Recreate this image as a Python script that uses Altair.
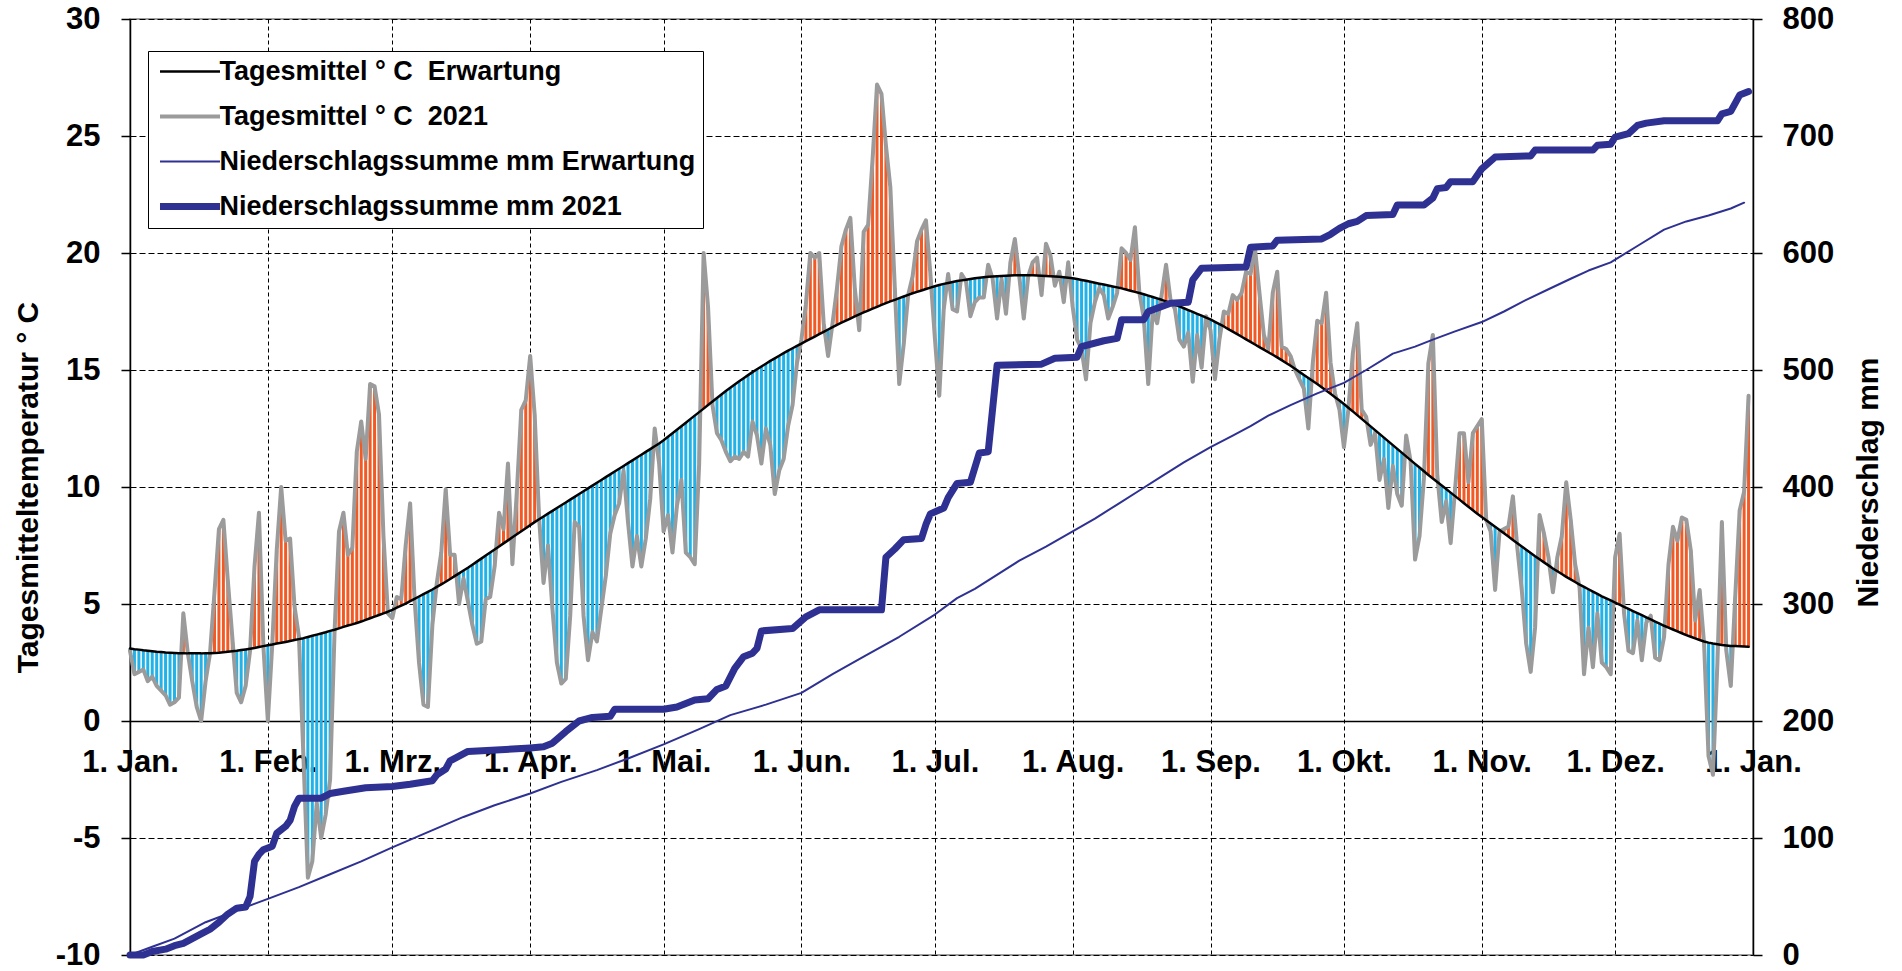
import altair as alt
import pandas as pd

FONT = "Liberation Sans"

# ---------------------------------------------------------------- axis setup
MONTH_START = [0, 31, 59, 90, 120, 151, 181, 212, 243, 273, 304, 334, 365]
MONTH_LABELS = ["1. Jan.", "1. Feb.", "1. Mrz.", "1. Apr.", "1. Mai.", "1. Jun.",
                "1. Jul.", "1. Aug.", "1. Sep.", "1. Okt.", "1. Nov.", "1. Dez.", "1. Jan."]

# ------------------------------------------- daily mean temperature 2021 (°C)
T21_JAN = [3.0, 2.0, 2.1, 2.2, 1.7, 1.9, 1.5, 1.3, 1.1, 0.7, 0.8, 1.0, 4.6, 2.9, 1.7, 0.6,
           0.0, 1.7, 2.9, 5.5, 8.2, 8.6, 6.0, 3.6, 1.2, 0.8, 1.5, 3.0, 6.6, 8.9, 3.2]
T21_FEB = [0.0, 3.3, 7.3, 10.0, 7.7, 7.8, 4.9, 3.6, -1.5, -6.7, -6.0, -3.5, -5.0, -4.0,
           -2.5, 3.8, 8.1, 8.9, 7.1, 7.4, 11.5, 12.8, 11.2, 14.4, 14.3, 13.1, 7.9, 4.6]
T21_MAR = [4.4, 5.3, 5.2, 7.5, 9.3, 5.2, 2.5, 0.7, 0.6, 4.1, 5.9, 7.2, 9.9, 7.1, 7.1, 5.0,
           6.1, 5.1, 4.1, 3.3, 3.4, 5.2, 5.3, 6.6, 8.9, 8.2, 11.0, 6.7, 9.8, 13.3, 13.7]
T21_APR = [15.6, 13.1, 8.7, 5.9, 7.5, 4.8, 2.5, 1.6, 1.8, 4.5, 8.5, 8.3, 4.5, 2.6, 3.8,
           3.4, 4.8, 6.2, 8.0, 8.8, 9.3, 10.7, 8.5, 6.6, 7.9, 6.6, 7.8, 9.5, 12.5, 11.0]
T21_MAY = [8.1, 8.8, 7.2, 9.2, 10.3, 7.2, 7.0, 6.7, 11.0, 20.0, 17.7, 13.5, 12.3, 12.0,
           11.5, 11.1, 11.3, 11.2, 11.5, 11.3, 12.8, 12.2, 11.0, 12.5, 11.8, 9.7, 10.7,
           11.2, 12.6, 13.5, 15.3]
T21_JUN = [16.3, 17.8, 20.0, 19.8, 20.0, 17.0, 15.6, 17.0, 18.5, 20.3, 21.0, 21.5, 18.5,
           16.7, 20.9, 21.2, 24.0, 27.2, 26.8, 24.6, 22.8, 18.5, 14.4, 16.1, 18.2, 19.0,
           20.5, 21.0, 21.4, 19.1]
T21_JUL = [16.4, 13.9, 17.6, 19.1, 17.6, 17.5, 19.1, 18.8, 17.3, 17.9, 18.1, 18.1, 19.5,
           18.9, 17.2, 18.9, 17.4, 19.6, 20.6, 19.0, 17.2, 19.0, 19.6, 19.8, 18.2, 20.4,
           19.9, 18.6, 19.2, 17.9, 19.6]
T21_AUG = [17.7, 16.3, 15.9, 14.6, 17.0, 17.9, 18.5, 18.2, 17.2, 17.7, 18.3, 20.2, 20.0,
           19.7, 21.1, 18.3, 17.2, 14.4, 17.5, 17.0, 18.2, 19.5, 18.0, 17.6, 16.3, 16.0,
           16.6, 14.5, 16.5, 15.1, 17.3]
T21_SEP = [16.7, 14.6, 16.3, 17.5, 17.4, 18.2, 18.0, 18.3, 19.2, 19.1, 20.2, 18.3, 16.5,
           15.9, 18.3, 19.2, 16.0, 15.9, 15.6, 15.0, 14.6, 14.2, 12.5, 15.3, 17.1, 17.0,
           18.3, 15.3, 14.0, 13.3]
T21_OCT = [11.7, 13.3, 15.7, 17.0, 13.3, 13.0, 11.8, 12.3, 10.3, 11.2, 9.1, 10.9, 9.7,
           9.2, 12.2, 11.1, 6.9, 7.9, 10.4, 15.3, 16.5, 10.5, 8.5, 9.4, 7.6, 9.9, 12.3,
           12.3, 10.2, 12.3, 12.6]
T21_NOV = [12.9, 8.6, 8.1, 5.6, 8.1, 8.2, 8.3, 9.6, 7.4, 5.6, 3.3, 2.1, 4.0, 8.8, 8.0,
           7.0, 5.5, 7.0, 7.9, 10.2, 8.6, 6.7, 5.7, 2.0, 4.0, 2.3, 4.6, 2.5, 2.3, 2.0]
T21_DEC = [7.0, 8.0, 4.6, 3.0, 2.9, 4.3, 2.6, 4.2, 4.5, 2.7, 2.6, 3.6, 6.7, 8.3, 7.7, 8.7,
           8.6, 7.3, 4.3, 5.6, 3.3, -1.5, -2.3, 2.5, 8.5, 3.0, 1.5, 5.3, 9.0, 9.8, 13.9]

# ------------------------------------- expected daily mean temperature (°C)
TEX_JAN = [3.10, 3.07, 3.05, 3.02, 3.00, 2.98, 2.96, 2.95, 2.93, 2.92, 2.91, 2.90, 2.90,
           2.89, 2.89, 2.89, 2.89, 2.90, 2.90, 2.91, 2.92, 2.94, 2.96, 2.98, 3.00, 3.03,
           3.06, 3.09, 3.12, 3.16, 3.20]
TEX_FEB = [3.24, 3.27, 3.31, 3.34, 3.38, 3.42, 3.46, 3.50, 3.54, 3.59, 3.64, 3.69, 3.74,
           3.79, 3.85, 3.90, 3.96, 4.02, 4.08, 4.13, 4.19, 4.25, 4.32, 4.39, 4.46, 4.53,
           4.60, 4.67]
TEX_MAR = [4.75, 4.84, 4.93, 5.02, 5.12, 5.22, 5.32, 5.42, 5.52, 5.62, 5.73, 5.84, 5.95,
           6.07, 6.19, 6.31, 6.43, 6.55, 6.68, 6.81, 6.94, 7.07, 7.20, 7.33, 7.46, 7.59,
           7.72, 7.85, 7.98, 8.11, 8.24]
TEX_APR = [8.37, 8.50, 8.62, 8.74, 8.86, 8.98, 9.10, 9.22, 9.34, 9.46, 9.58, 9.70, 9.82,
           9.94, 10.06, 10.18, 10.30, 10.42, 10.54, 10.66, 10.78, 10.90, 11.02, 11.14,
           11.26, 11.38, 11.50, 11.62, 11.74, 11.86]
TEX_MAY = [12.00, 12.15, 12.30, 12.45, 12.60, 12.75, 12.90, 13.05, 13.20, 13.35, 13.50,
           13.65, 13.80, 13.95, 14.10, 14.24, 14.38, 14.52, 14.65, 14.78, 14.91, 15.03,
           15.15, 15.27, 15.39, 15.50, 15.61, 15.72, 15.83, 15.93, 16.03]
TEX_JUN = [16.13, 16.23, 16.33, 16.43, 16.53, 16.63, 16.73, 16.83, 16.93, 17.02, 17.11,
           17.20, 17.29, 17.38, 17.46, 17.54, 17.62, 17.70, 17.78, 17.86, 17.93, 18.00,
           18.07, 18.14, 18.21, 18.28, 18.34, 18.40, 18.46, 18.52]
TEX_JUL = [18.58, 18.63, 18.68, 18.72, 18.76, 18.80, 18.83, 18.86, 18.89, 18.92, 18.94,
           18.96, 18.98, 19.00, 19.01, 19.02, 19.03, 19.04, 19.05, 19.05, 19.05, 19.05,
           19.05, 19.04, 19.03, 19.02, 19.01, 19.00, 18.98, 18.96, 18.94]
TEX_AUG = [18.92, 18.89, 18.85, 18.81, 18.77, 18.73, 18.69, 18.65, 18.61, 18.57, 18.53,
           18.49, 18.44, 18.39, 18.34, 18.29, 18.24, 18.18, 18.12, 18.06, 18.00, 17.93,
           17.86, 17.79, 17.72, 17.64, 17.56, 17.48, 17.40, 17.32, 17.24]
TEX_SEP = [17.16, 17.06, 16.96, 16.86, 16.75, 16.64, 16.53, 16.42, 16.31, 16.20, 16.09,
           15.98, 15.87, 15.76, 15.65, 15.54, 15.42, 15.30, 15.18, 15.05, 14.92, 14.79,
           14.66, 14.53, 14.40, 14.26, 14.12, 13.98, 13.84, 13.70]
TEX_OCT = [13.55, 13.39, 13.23, 13.07, 12.91, 12.75, 12.59, 12.43, 12.27, 12.11, 11.95,
           11.79, 11.63, 11.47, 11.31, 11.15, 10.99, 10.83, 10.67, 10.51, 10.36, 10.21,
           10.06, 9.91, 9.76, 9.61, 9.46, 9.31, 9.16, 9.01, 8.86]
TEX_NOV = [8.72, 8.58, 8.44, 8.30, 8.16, 8.02, 7.88, 7.74, 7.60, 7.46, 7.32, 7.18, 7.04,
           6.91, 6.78, 6.65, 6.52, 6.40, 6.28, 6.16, 6.05, 5.94, 5.83, 5.73, 5.63, 5.53,
           5.43, 5.33, 5.24, 5.15]
TEX_DEC = [5.06, 4.97, 4.88, 4.79, 4.70, 4.61, 4.52, 4.43, 4.34, 4.25, 4.16, 4.07, 3.99,
           3.91, 3.83, 3.75, 3.67, 3.60, 3.53, 3.46, 3.40, 3.35, 3.31, 3.28, 3.25, 3.23,
           3.21, 3.20, 3.19, 3.18, 3.17]

# ----------------------------- cumulative precipitation 2021 (day of year, mm)
P21_DAY = [0, 3, 5, 8, 10, 12, 14, 16, 18, 20, 22, 24, 26, 27, 28, 29, 30, 32, 33, 35, 36,
           37, 38, 43, 45, 48, 53, 59, 63, 68, 69, 71, 72, 74, 76, 86, 90, 93, 95, 98,
           101, 104, 108, 109, 120, 123, 127, 130, 132, 134, 136, 138, 140, 141, 142,
           149, 152, 155, 169, 170, 172, 174, 178, 179, 180, 183, 184, 186, 189, 191,
           193, 195, 205, 208, 213, 214, 219, 222, 223, 228, 229, 234, 238, 239, 241,
           251, 252, 257, 258, 268, 270, 272, 274, 276, 278, 284, 285, 291, 293, 294,
           296, 297, 302, 304, 307, 315, 316, 329, 330, 333, 334, 337, 339, 341, 345,
           357, 358, 360, 362, 364]
P21_MM = [0, 0, 3, 5, 8, 10, 14, 18, 22, 28, 35, 40, 41, 50, 80, 86, 90, 93, 104, 110, 115,
          127, 134, 134, 138, 140, 143, 144, 146, 149, 154, 159, 166, 170, 174, 176, 177,
          178, 181, 191, 200, 203, 204, 210, 210, 212, 218, 219, 227, 230, 245, 255, 258,
          262, 277, 279, 289, 295, 295, 340, 347, 355, 356, 368, 377, 382, 391, 403, 404,
          429, 430, 504, 505, 510, 511, 520, 525, 527, 543, 543, 550, 557, 558, 577, 587,
          588, 605, 606, 611, 612, 616, 621, 625, 627, 632, 633, 641, 641, 647, 655, 656,
          661, 661, 672, 682, 683, 688, 688, 692, 693, 699, 702, 709, 711, 713, 713, 719,
          721, 735, 738]

# ------------------------ expected cumulative precipitation (day of year, mm)
PEX_DAY = [0, 5, 10, 17, 24, 31, 38, 45, 52, 59, 67, 75, 82, 90, 97, 105, 112, 120, 128,
           135, 143, 151, 158, 165, 173, 181, 186, 190, 200, 206, 212, 217, 222, 227, 232,
           237, 243, 248, 252, 256, 261, 267, 273, 278, 284, 289, 293, 298, 304, 309, 314,
           319, 324, 328, 333, 339, 345, 350, 355, 360, 363]
PEX_MM = [0, 7, 14, 28, 38, 48, 58, 69, 80, 92, 105, 118, 128, 138, 148, 158, 168, 180,
          193, 205, 214, 224, 240, 255, 272, 291, 305, 313, 337, 349, 362, 373, 385, 397,
          409, 421, 434, 444, 452, 461, 470, 480, 489, 500, 514, 520, 526, 533, 541, 550,
          560, 569, 578, 585, 592, 606, 620, 627, 632, 638, 643]

# ------------------------------------------------------------- series styling
S_TEXP = "Tagesmittel ° C\u00a0 Erwartung"
S_T21 = "Tagesmittel ° C\u00a0 2021"
S_PEXP = "Niederschlagssumme mm Erwartung"
S_P21 = "Niederschlagssumme mm 2021"
SERIES = [S_TEXP, S_T21, S_PEXP, S_P21]
SERIES_COLORS = ["#000000", "#9b9b9b", "#2e3192", "#2e3192"]
SERIES_WIDTHS = [2.5, 4, 2, 7]
WARM = "#f15a24"
COLD = "#22b2e8"

TEMP_2021 = (T21_JAN + T21_FEB + T21_MAR + T21_APR + T21_MAY + T21_JUN +
             T21_JUL + T21_AUG + T21_SEP + T21_OCT + T21_NOV + T21_DEC)
TEMP_EXP = (TEX_JAN + TEX_FEB + TEX_MAR + TEX_APR + TEX_MAY + TEX_JUN +
            TEX_JUL + TEX_AUG + TEX_SEP + TEX_OCT + TEX_NOV + TEX_DEC)
DAYS = list(range(len(TEMP_2021)))

temp = pd.DataFrame({"day": DAYS, "t2021": TEMP_2021, "texp": TEMP_EXP})
temp_exp_line = pd.DataFrame({"day": DAYS, "value": TEMP_EXP, "series": S_TEXP})
temp_21_line = pd.DataFrame({"day": DAYS, "value": TEMP_2021, "series": S_T21})
prec_exp = pd.DataFrame({"day": PEX_DAY, "mm": PEX_MM, "series": S_PEXP})
prec_21 = pd.DataFrame({"day": P21_DAY, "mm": P21_MM, "series": S_P21})

PLOT_W, PLOT_H = 1623, 936

# ------------------------------------------------------------------ scales
x_scale = alt.Scale(domain=[0, 365], nice=False, zero=False)
t_scale = alt.Scale(domain=[-10, 30], nice=False, zero=False)
p_scale = alt.Scale(domain=[0, 800], nice=False, zero=False)
c_scale = alt.Scale(domain=SERIES, range=SERIES_COLORS)
w_scale = alt.Scale(type="ordinal", domain=SERIES, range=SERIES_WIDTHS)

label_expr = ("[" + ",".join(f"'{s}'" for s in MONTH_LABELS) + "][indexof(["
              + ",".join(str(v) for v in MONTH_START) + "], datum.value)]")
# plain hyphen for negative tick labels
num_expr = "datum.value < 0 ? '-' + abs(datum.value) : '' + datum.value"

# x axis sits on the 0 °C line, a quarter of the way up the plot
x_axis = alt.Axis(
    values=MONTH_START, labelExpr=label_expr, offset=-PLOT_H * 10 / 40,
    ticks=False, domainColor="black", domainWidth=1.5,
    grid=True, gridColor="black", gridDash=[4, 3], gridWidth=1,
    labelFont=FONT, labelFontSize=31, labelFontWeight="bold", labelColor="black",
    labelPadding=26, labelFlush=False, labelOverlap=False, labelBaseline="top",
    title=None,
)

t_axis = alt.Axis(
    orient="left", values=list(range(-10, 31, 5)), labelExpr=num_expr,
    grid=True, gridColor="black", gridDash=[6, 3], gridWidth=1,
    domainColor="black", domainWidth=1.5, tickColor="black", tickSize=9, tickWidth=1.5,
    labelFont=FONT, labelFontSize=31, labelFontWeight="bold", labelColor="black",
    labelPadding=21, labelFlush=False,
    title="Tagesmitteltemperatur ° C", titleFont=FONT, titleFontSize=30,
    titleFontWeight="bold", titleColor="black", titleAngle=270,
    titleX=-102, titleY=468, titleAlign="center", titleBaseline="middle",
)

p_axis = alt.Axis(
    orient="right", values=list(range(0, 801, 100)), grid=False,
    domainColor="black", domainWidth=1.5, tickColor="black", tickSize=9, tickWidth=1.5,
    labelFont=FONT, labelFontSize=31, labelFontWeight="bold", labelColor="black",
    labelPadding=20, labelFlush=False,
    title="Niederschlag mm", titleFont=FONT, titleFontSize=30,
    titleFontWeight="bold", titleColor="black", titleAngle=270,
    titleX=115, titleY=463, titleAlign="center", titleBaseline="middle",
)

legend = alt.Legend(
    orient="none", legendX=18, legendY=32, title=None,
    fillColor="white", strokeColor="black", padding=7,
    labelFont=FONT, labelFontSize=27, labelFontWeight="bold", labelColor="black",
    labelLimit=800, symbolType="M-4,0H4", symbolSize=225,
    symbolOffset=21.5, labelOffset=16, rowPadding=17,
)

X = alt.X("day:Q", scale=x_scale, axis=x_axis, title=None)
T_TITLE = "Tagesmitteltemperatur ° C"

# daily deviation from the expected curve, drawn as vertical stripes
warm = alt.Chart(temp).transform_filter("datum.t2021 > datum.texp").mark_rule(
    color=WARM, strokeWidth=3
).encode(x=X, y=alt.Y("t2021:Q", scale=t_scale, axis=t_axis, title=T_TITLE), y2="texp:Q")

cold = alt.Chart(temp).transform_filter("datum.t2021 <= datum.texp").mark_rule(
    color=COLD, strokeWidth=3
).encode(x=X, y=alt.Y("t2021:Q", scale=t_scale, axis=t_axis, title=T_TITLE), y2="texp:Q")


def series_line(df, field, scale, axis, title):
    return alt.Chart(df).mark_line(strokeJoin="round", strokeCap="round").encode(
        x=X,
        y=alt.Y(f"{field}:Q", scale=scale, axis=axis, title=title),
        color=alt.Color("series:N", scale=c_scale, legend=legend),
        strokeWidth=alt.StrokeWidth("series:N", scale=w_scale, legend=legend),
    )


t21_line = series_line(temp_21_line, "value", t_scale, t_axis, T_TITLE)
texp_line = series_line(temp_exp_line, "value", t_scale, t_axis, T_TITLE)
pexp_line = series_line(prec_exp, "mm", p_scale, p_axis, "Niederschlag mm")
p21_line = series_line(prec_21, "mm", p_scale, p_axis, "Niederschlag mm")

temperature = alt.layer(warm, cold, t21_line, texp_line)
precipitation = alt.layer(pexp_line, p21_line)

chart = alt.layer(temperature, precipitation).resolve_scale(
    y="independent"
).properties(
    width=PLOT_W, height=PLOT_H,
    autosize=alt.AutoSizeParams(type="none"),
    padding={"left": 130, "top": 19, "right": 149, "bottom": 16},
    background="white",
).configure_view(stroke="#808080", strokeWidth=1.5)

chart.save("out.html", embed_options={"renderer": "svg", "actions": False})
